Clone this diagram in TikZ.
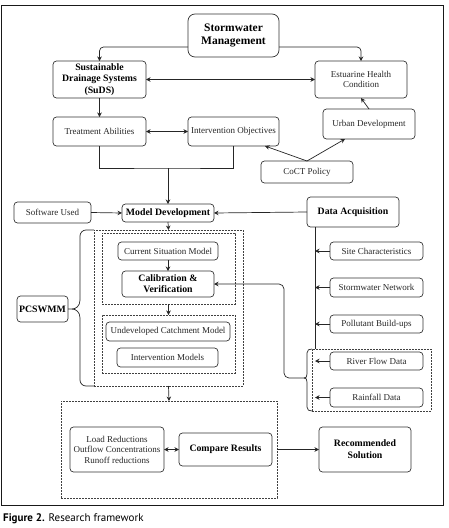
\documentclass[tikz,border=0pt]{standalone}
\usepackage{fontspec}
\setmainfont{Liberation Serif}
\newfontfamily\capfont{PT Sans}
\usetikzlibrary{arrows.meta,calc}
\tikzset{
  box/.style={draw=black!80, line width=0.7pt, rounded corners=3.5pt, align=center, inner sep=1pt, outer sep=0pt, text=black!85, font=\fontsize{9}{10.8}\selectfont},
  bbox/.style={box, text=black, font=\bfseries\fontsize{9.8}{11.6}\selectfont},
  dbox/.style={draw=black!75, line width=0.6pt, dash pattern=on 1.6pt off 1.4pt, inner sep=0pt, outer sep=0pt},
  arr/.style={-{Stealth[length=4.5pt,width=4.5pt]}, line width=0.7pt, draw=black!85},
  darr/.style={{Stealth[length=4.5pt,width=4.5pt]}-{Stealth[length=4.5pt,width=4.5pt]}, line width=0.7pt, draw=black!85},
  ln/.style={line width=0.7pt, draw=black!85}
}
\begin{document}
\begin{tikzpicture}[x=1pt,y=-1pt]
\useasboundingbox (0,0) rectangle (448,528);
\draw[line width=0.9pt, black!90] (1.5,5) rectangle (443,505);
% dashed groups
\node[dbox, minimum width=149pt, minimum height=156pt] (outer) at (168.5,308) {};
\node[dbox, minimum width=133pt, minimum height=71pt] (in1) at (168.5,268.5) {};
\node[dbox, minimum width=133pt, minimum height=58pt] (in2) at (168.5,344) {};
\node[dbox, minimum width=119pt, minimum height=62pt] (rfg) at (371.5,380) {};
\node[dbox, minimum width=216pt, minimum height=97pt] (res) at (169,449.5) {};
% nodes
\node[bbox, font=\bfseries\fontsize{11.5}{13.5}\selectfont, rounded corners=7pt, minimum width=91pt, minimum height=43pt] (sw) at (233.5,35.5) {Stormwater\\Management};
\node[bbox, minimum width=93pt, minimum height=37pt] (suds) at (99.5,79.5) {Sustainable\\Drainage Systems\\(SuDS)};
\node[box, minimum width=92pt, minimum height=37pt] (est) at (361,79.5) {Estuarine Health\\Condition};
\node[box, minimum width=93pt, minimum height=29pt] (treat) at (99.5,131.5) {Treatment Abilities};
\node[box, minimum width=91pt, minimum height=29pt] (intobj) at (233.5,131.5) {Intervention Objectives};
\node[box, minimum width=92pt, minimum height=30pt] (urban) at (369,124) {Urban Development};
\node[box, minimum width=92pt, minimum height=22pt] (coct) at (307,172) {CoCT Policy};
\node[box, minimum width=77pt, minimum height=21pt] (soft) at (52.5,212.5) {Software Used};
\node[bbox, minimum width=92pt, minimum height=18pt] (md) at (168,213) {Model Development};
\node[bbox, minimum width=92pt, minimum height=30pt] (da) at (353,212) {Data Acquisition};
\node[box, minimum width=100pt, minimum height=18pt] (csm) at (168,251) {Current Situation Model};
\node[bbox, font=\bfseries\fontsize{9.8}{11.2}\selectfont, minimum width=92pt, minimum height=26pt] (cal) at (168,284) {Calibration \&\\Verification};
\node[box, minimum width=124pt, minimum height=19pt] (und) at (168,331.5) {Undeveloped Catchment Model};
\node[box, minimum width=101pt, minimum height=19pt] (im) at (167.5,357.5) {Intervention Models};
\node[bbox, minimum width=51pt, minimum height=26pt] (pcs) at (42.5,309) {PCSWMM};
\node[box, minimum width=93pt, minimum height=18pt] (site) at (376.5,251) {Site Characteristics};
\node[box, minimum width=93pt, minimum height=19pt] (swn) at (376.5,287.5) {Stormwater Network};
\node[box, minimum width=93pt, minimum height=18pt] (pol) at (376.5,324) {Pollutant Build-ups};
\node[box, minimum width=93pt, minimum height=18pt] (river) at (376.5,361) {River Flow Data};
\node[box, minimum width=93pt, minimum height=19pt] (rain) at (376.5,397.5) {Rainfall Data};
\node[box, font=\fontsize{9}{10.5}\selectfont, minimum width=94pt, minimum height=45pt] (load) at (117,449.5) {Load Reductions\\Outflow Concentrations\\Runoff reductions};
\node[bbox, minimum width=93pt, minimum height=33pt] (cmp) at (225.5,449.5) {Compare Results};
\node[bbox, font=\bfseries\fontsize{9.8}{12.3}\selectfont, minimum width=92pt, minimum height=45pt] (rec) at (365,449.5) {Recommended\\Solution};
% coordinates
\coordinate (j) at (168,168);
\coordinate (dl) at (315,227);
\coordinate (dlb) at (315,349);
\coordinate (tip) at (304,378);
% connectors
\draw[arr, rounded corners=4pt] ([yshift=-11.5pt]sw.west) -| (suds.north);
\draw[arr, rounded corners=4pt] ([yshift=-11.5pt]sw.east) -| (est.north);
\draw[darr] (suds.east) -- (est.west);
\draw[arr] (suds.south) -- (treat.north);
\draw[darr] (treat.east) -- (intobj.west);
\draw[arr] (urban.north) -- (est.south);
\draw[arr] (coct.north) -- ([xshift=-14pt]intobj.south east);
\draw[arr] (coct.north) -- ([xshift=22pt]urban.south west);
\draw[ln] (treat.south) |- (j) -| (intobj.south);
\draw[arr] (j) -- (md.north);
\draw[arr] (soft.east) -- (md.west);
\draw[arr] (da.west) -- (md.east);
\draw[arr] (md.south) -- (outer.north);
\draw[arr] (csm.south) -- (cal.north);
\draw[arr] (in1.south) -- (in2.north);
\draw[arr] (outer.south) -- (res.north);
\draw[darr] (load.east) -- (cmp.west);
\draw[arr] (res.east) -- (rec.west);
\draw[ln] (dl) -- (dlb);
\foreach \n in {site,swn,pol,river,rain} \draw[arr] (\n.west) -- (\n.west -| dl);
% PCSWMM brace
\draw[ln, rounded corners=6pt] (outer.north west) -- (80,230) -- (80,300);
\draw[ln] (80,300) .. controls (80,306) and (76,309) .. (72,309) -- (pcs.east);
\draw[ln] (72,309) .. controls (76,309) and (80,312) .. (80,318);
\draw[ln, rounded corners=6pt] (80,318) -- (80,386) -- (outer.south west);
% river/rain brace
\draw[ln] (rfg.north west) .. controls (309,349) and (307,350) .. (307,353) -- (307,374) .. controls (307,377) and (306,378) .. (tip);
\draw[ln] (tip) .. controls (306,378) and (307,379) .. (307,382) -- (307,407) .. controls (307,410) and (309,411) .. (rfg.south west);
\draw[arr, rounded corners=5pt] (tip) -- (284,378) -- (284,284) -- (cal.east);
% caption
\node[anchor=base west, inner sep=0pt, font=\capfont\fontsize{11}{13}\selectfont] (cap) at (3,521) {\textbf{Figure 2.} Research framework};
\end{tikzpicture}
\end{document}
